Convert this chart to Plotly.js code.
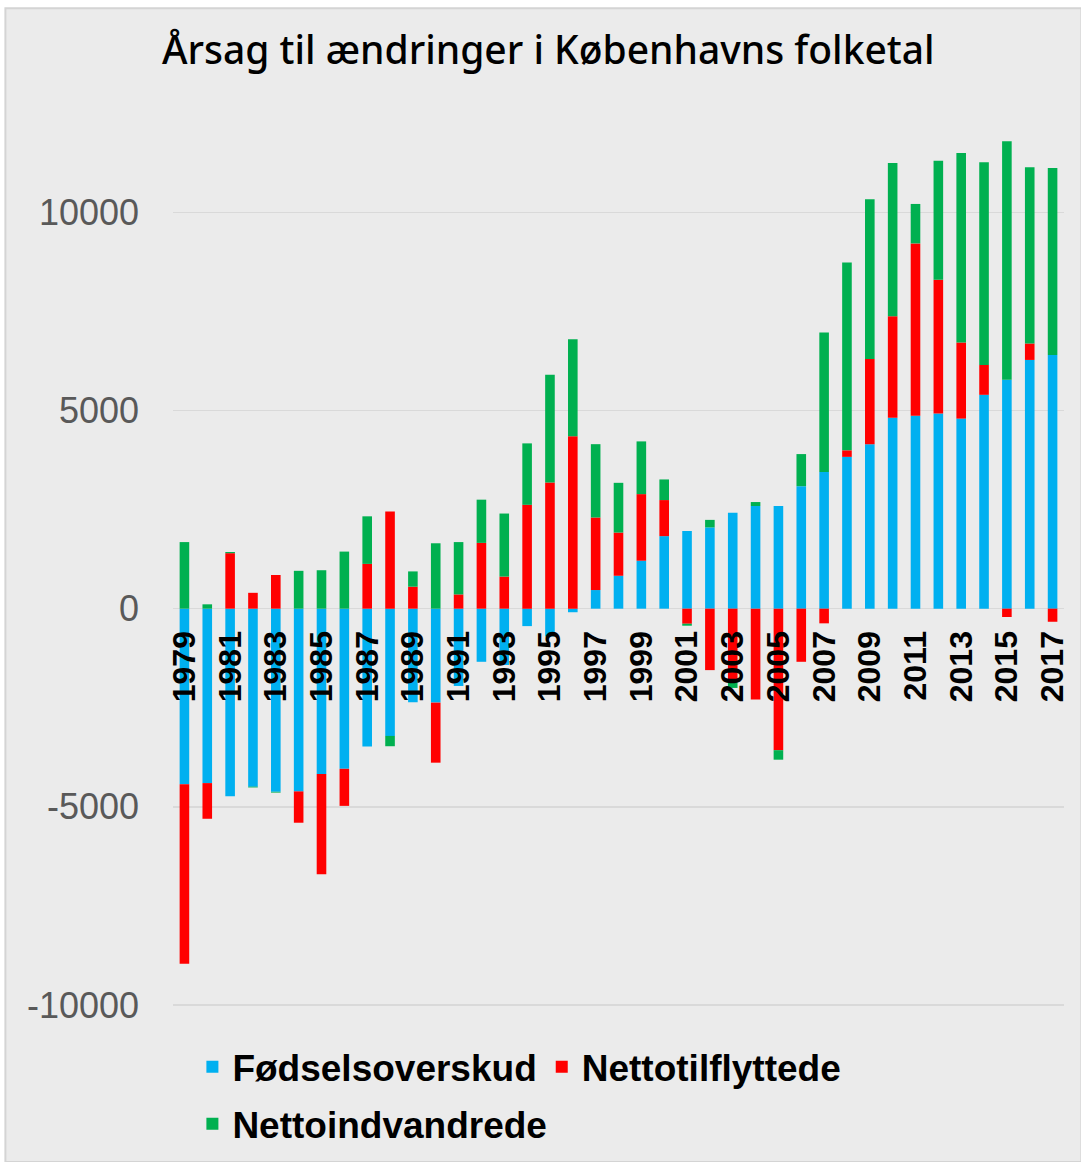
<!DOCTYPE html>
<html>
<head>
<meta charset="utf-8">
<script src="https://cdn.plot.ly/plotly-3.0.1.min.js"></script>
<style>html,body{margin:0;padding:0;background:#fff;}#chart{width:1081px;height:1162px;}</style>
</head>
<body>
<div id="chart"></div>
<script>
const years = ['1979','1980','1981','1982','1983','1984','1985','1986','1987','1988','1989','1990',
  '1991','1992','1993','1994','1995','1996','1997','1998','1999','2000','2001','2002','2003','2004',
  '2005','2006','2007','2008','2009','2010','2011','2012','2013','2014','2015','2016','2017'];
const tickYears = ['1979','1981','1983','1985','1987','1989','1991','1993','1995','1997','1999',
  '2001','2003','2005','2007','2009','2011','2013','2015','2017'];
const yTicks = [-10000, -5000, 0, 5000, 10000];

const foedselsoverskud = [-4430,-4400,-4730,-4490,-4620,-4610,-4170,-4040,-3475,-3210,-2360,-2370,
  -1950,-1340,-1420,-440,-700,-90,470,830,1210,1830,1960,2050,2420,2590,
  2590,3090,3450,3830,4150,4815,4870,4925,4795,5395,5775,6275,6400];
const nettotilflyttede = [-4530,-900,1400,400,850,-790,-2530,-935,1130,2450,555,-1515,
  360,1660,810,2620,3180,4350,1830,1090,1680,910,-380,-1550,-1780,-2290,
  -3570,-1340,-370,165,2150,2565,4345,3375,1920,755,-210,415,-330];
const nettoindvandrede = [1680,110,30,-20,-20,955,970,1440,1200,-260,385,1650,
  1320,1090,1590,1550,2720,2450,1850,1255,1330,520,-50,190,-220,100,
  -240,810,3515,4740,4030,3865,995,3000,4780,5110,6015,4445,4715];

const seriesNames = ['Fødselsoverskud','Nettotilflyttede','Nettoindvandrede'];
const seriesColors = ['#00b0f0','#ff0000','#00b050'];
const seriesValues = [foedselsoverskud, nettotilflyttede, nettoindvandrede];

const yMin = -10200, yMax = 12000;

const traces = seriesValues.map((vals, i) => ({
  type: 'bar',
  name: seriesNames[i],
  x: years,
  y: vals,
  marker: {color: seriesColors[i]},
  legend: i < 2 ? 'legend' : 'legend2',
  hoverinfo: 'x+y+name'
}));

const W = 1081, H = 1162;
const mL = 172.6, mR = 17.4, mT = 132.7, mB = 149.1;
const plotW = W - mL - mR, plotH = H - mT - mB;
const px = X => (X - mL) / plotW;
const py = Y => (H - mB - Y) / plotH;

const legendFont = {family: 'Liberation Sans', size: 37, color: '#000000', weight: 'bold'};

const layout = {
  width: W, height: H,
  margin: {l: mL, r: mR, t: mT, b: mB, pad: 0, autoexpand: false},
  paper_bgcolor: '#ffffff',
  plot_bgcolor: 'rgba(0,0,0,0)',
  barmode: 'relative',
  bargap: 0.58,
  title: {
    text: 'Årsag til ændringer i Københavns folketal',
    font: {family: 'Noto Sans', size: 39, color: '#000000', weight: 500},
    xref: 'container', yref: 'container',
    x: 162 / W, xanchor: 'left',
    y: 1 - 50 / H, yanchor: 'middle'
  },
  xaxis: {
    type: 'category',
    anchor: 'free',
    position: (0 - yMin) / (yMax - yMin),
    tickmode: 'array',
    tickvals: tickYears,
    ticktext: tickYears,
    tickangle: -90,
    tickfont: {family: 'Liberation Sans', size: 32, color: '#000000', weight: 'bold'},
    ticks: '',
    ticklabelstandoff: 15,
    showgrid: false,
    showline: false,
    zeroline: false,
    automargin: false,
    range: [-0.5, years.length - 0.5],
    fixedrange: true
  },
  yaxis: {
    range: [yMin, yMax],
    tickmode: 'array',
    tickvals: yTicks,
    ticktext: yTicks.map(String),
    tickfont: {family: 'Liberation Sans', size: 36, color: '#595959'},
    ticks: '',
    ticklabelstandoff: 33,
    showgrid: true,
    gridcolor: '#d9d9d9',
    gridwidth: 1.5,
    zeroline: true,
    zerolinecolor: '#d9d9d9',
    zerolinewidth: 1.5,
    showline: false,
    automargin: false,
    fixedrange: true
  },
  legend: {
    orientation: 'h',
    x: px(192), xanchor: 'left',
    y: py(1036), yanchor: 'top',
    bgcolor: 'rgba(0,0,0,0)',
    font: legendFont,
    itemwidth: 30,
    traceorder: 'normal'
  },
  legend2: {
    orientation: 'h',
    x: px(192), xanchor: 'left',
    y: py(1093), yanchor: 'top',
    bgcolor: 'rgba(0,0,0,0)',
    font: legendFont,
    itemwidth: 30
  },
  shapes: [{
    type: 'rect', xref: 'paper', yref: 'paper',
    x0: px(5), x1: px(1081), y0: py(1162), y1: py(8),
    fillcolor: '#ebebeb',
    line: {color: '#d4d4d4', width: 2},
    layer: 'below'
  }],
  showlegend: true
};

Plotly.newPlot('chart', traces, layout, {displayModeBar: false, staticPlot: true});
</script>
</body>
</html>
